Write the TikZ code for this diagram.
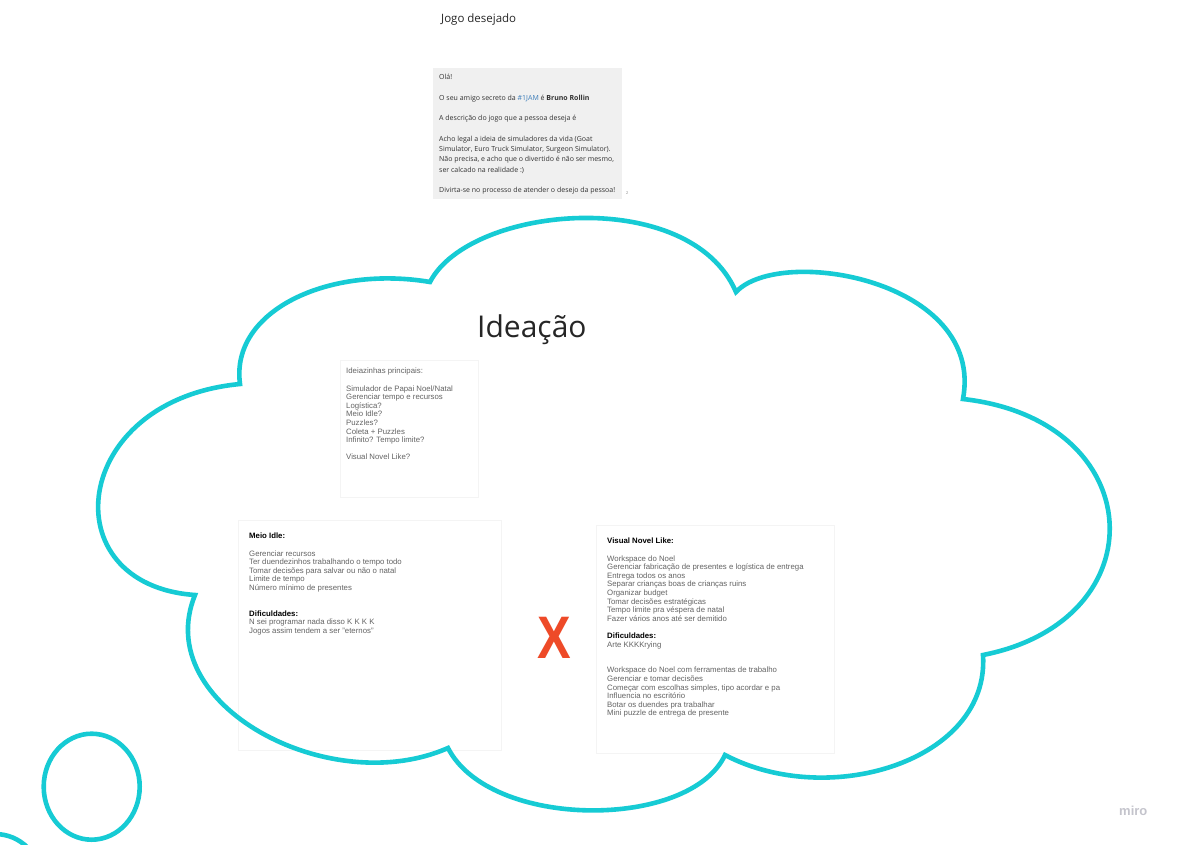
\documentclass[tikz,border=0pt]{standalone}
\usepackage{fontspec}
\setmainfont{Liberation Sans}
\newfontfamily\opensans{Open Sans}
\definecolor{cloudc}{RGB}{22,203,212}
\definecolor{boxtxt}{RGB}{100,100,100}
\definecolor{msgbg}{RGB}{240,240,240}
\definecolor{boxline}{RGB}{244,244,244}
\definecolor{xred}{RGB}{238,74,40}
\definecolor{mirogray}{RGB}{196,196,204}
\definecolor{hashblue}{RGB}{60,125,185}
\definecolor{msgtxt}{RGB}{50,50,50}
\tikzset{
  cloudline/.style={draw=cloudc, line width=4.6pt, line join=miter},
  notebox/.style={draw=boxline, line width=0.8pt, fill=white},
  notetext/.style={anchor=north west, inner sep=0pt, align=left, text=boxtxt,
     font=\fontsize{7.8}{8.6}\selectfont},
  msgtext/.style={anchor=north west, inner sep=0pt, align=left, text=msgtxt,
     font=\opensans\fontsize{7}{10.3}\selectfont},
}
\newcommand{\hd}[1]{\textcolor{black}{\bfseries #1}}
\begin{document}
\begin{tikzpicture}[x=1pt,y=-1pt]
\useasboundingbox (0,0) rectangle (1184,844);
\fill[white] (0,0) rectangle (1184,844);

% title
\node[anchor=base west, inner sep=0pt, font=\opensans\fontsize{11.5}{13}\selectfont, text=black!85] (title) at (441,22) {Jogo desejado};

% message box
\fill[msgbg] (433,68) rectangle (622,199);
\node[msgtext] (msg) at (439,74) {Olá!\\[10.3pt]
O seu amigo secreto da \textcolor{hashblue}{\#1JAM} é \textbf{Bruno Rollin}\\[10.3pt]
A descrição do jogo que a pessoa deseja é\\[10.3pt]
Acho legal a ideia de simuladores da vida (Goat\\
Simulator, Euro Truck Simulator, Surgeon Simulator).\\
Não precisa, e acho que o divertido é não ser mesmo,\\
ser calcado na realidade :)\\[10.3pt]
Divirta-se no processo de atender o desejo da pessoa!};
\node[anchor=base west, inner sep=0pt, font=\fontsize{4}{4}\selectfont, text=black!45] (mark) at (626,194) {2};

% note boxes
\draw[notebox] (340,360) rectangle (478,497);
\draw[notebox] (238,520) rectangle (501,750);
\draw[notebox] (596,525) rectangle (834,753);

\node[notetext] (ideias) at (346,368) {Ideiazinhas principais:\\[8.6pt]
Simulador de Papai Noel/Natal\\
Gerenciar tempo e recursos\\
Logística?\\
Meio Idle?\\
Puzzles?\\
Coleta + Puzzles\\
Infinito? Tempo limite?\\[8.6pt]
Visual Novel Like?};

\node[notetext] (idle) at (249,533) {\hd{Meio Idle:}\\[8.6pt]
Gerenciar recursos\\
Ter duendezinhos trabalhando o tempo todo\\
Tomar decisões para salvar ou não o natal\\
Limite de tempo\\
Número mínimo de presentes\\[17.2pt]
\hd{Dificuldades:}\\
N sei programar nada disso K K K K\\
Jogos assim tendem a ser "eternos"};

\node[notetext] (novel) at (607,538) {\hd{Visual Novel Like:}\\[8.6pt]
Workspace do Noel\\
Gerenciar fabricação de presentes e logística de entrega\\
Entrega todos os anos\\
Separar crianças boas de crianças ruins\\
Organizar budget\\
Tomar decisões estratégicas\\
Tempo limite pra véspera de natal\\
Fazer vários anos até ser demitido\\[8.6pt]
\hd{Dificuldades:}\\
Arte KKKKrying\\[17.2pt]
Workspace do Noel com ferramentas de trabalho\\
Gerenciar e tomar decisões\\
Começar com escolhas simples, tipo acordar e pa\\
Influencia no escritório\\
Botar os duendes pra trabalhar\\
Mini puzzle de entrega de presente};

% red X
\node[anchor=base, inner sep=0pt, text=xred, font=\bfseries\fontsize{60}{60}\selectfont, xscale=0.84] (xmark) at (554,658) {X};

% cloud
\coordinate (c1) at (430,282);
\coordinate (c2) at (736,292);
\coordinate (c3) at (963,399);
\coordinate (c4) at (983,655);
\coordinate (c5) at (725,755);
\coordinate (c6) at (448,748);
\coordinate (c7) at (195,595);
\coordinate (c8) at (240,384);
\draw[cloudline] (c1)
  .. controls (470,205) and (690,185) .. (c2)
  .. controls (780,245) and (985,280) .. (c3)
  .. controls (1150,420) and (1160,620) .. (c4)
  .. controls (990,760) and (830,810) .. (c5)
  .. controls (690,830) and (490,830) .. (c6)
  .. controls (330,800) and (150,705) .. (c7)
  .. controls (50,585) and (70,400) .. (c8)
  .. controls (230,310) and (330,265) .. (c1) -- cycle;

% Ideação title
\node[anchor=base west, inner sep=0pt, font=\opensans\fontsize{30}{32}\selectfont, text=black!85] (idea) at (477,337) {Ideação};

% small circles
\draw[cloudline] (91.7,786.7) ellipse [x radius=48, y radius=53];
\draw[cloudline] (-5,880) circle [radius=46];

% miro logo
\node[anchor=base west, inner sep=0pt, font=\bfseries\fontsize{13}{13}\selectfont, text=mirogray] (miro) at (1119,815) {miro};
\end{tikzpicture}
\end{document}
